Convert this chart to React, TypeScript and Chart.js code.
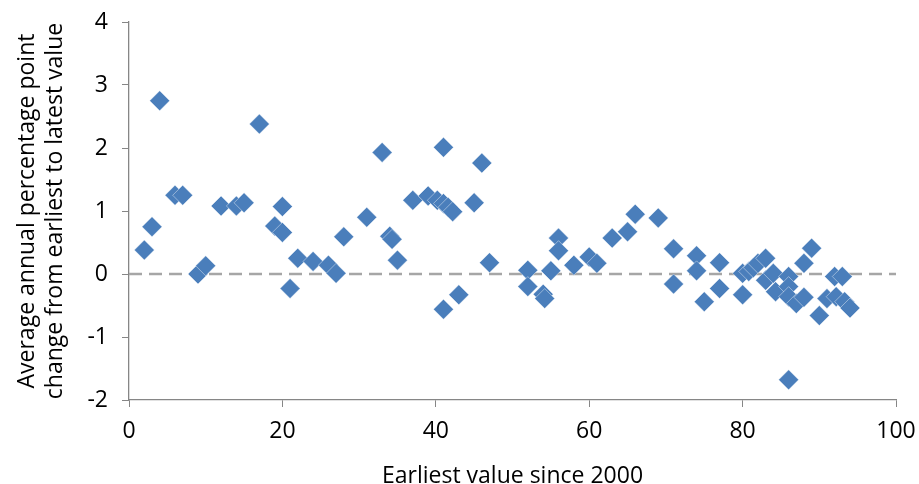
import React, { useEffect, useRef } from "react";
import { Chart, registerables } from "chart.js";

Chart.register(...registerables);

const xValues: number[] = [
  2, 3, 4, 6, 7, 9, 10, 12, 14, 15, 17, 19, 20, 20, 21, 22, 24, 26, 27, 28,
  31, 33, 34, 34.3, 35, 37, 39, 40.2, 41, 41, 41, 41.6, 42.2, 43, 45, 46, 47,
  52, 52, 54, 54.2, 55, 56, 56, 58, 60, 61, 63, 65, 66, 69, 71, 71, 74, 74,
  75, 77, 77, 80, 80, 80.8, 81.4, 82, 83, 83, 84, 84.3, 86, 86, 86, 86, 87,
  88, 88, 89, 90, 91, 92, 92.2, 93, 93.3, 94,
];
const yValues: number[] = [
  0.38, 0.75, 2.75, 1.25, 1.25, 0.0, 0.13, 1.08, 1.08, 1.13, 2.38, 0.76, 0.66,
  1.07, -0.23, 0.25, 0.2, 0.14, 0.01, 0.59, 0.9, 1.93, 0.6, 0.55, 0.22, 1.17,
  1.24, 1.17, 2.01, 1.12, -0.56, 1.06, 0.99, -0.33, 1.13, 1.76, 0.18, 0.06,
  -0.2, -0.32, -0.39, 0.05, 0.57, 0.37, 0.14, 0.27, 0.17, 0.57, 0.67, 0.95,
  0.89, 0.4, -0.16, 0.29, 0.05, -0.44, 0.18, -0.23, 0.01, -0.33, 0.04, 0.1,
  0.17, 0.25, -0.1, 0.01, -0.28, -0.04, -0.2, -0.36, -1.68, -0.47, 0.17,
  -0.37, 0.41, -0.66, -0.39, -0.04, -0.36, -0.04, -0.44, -0.54,
];
const zeroLineX: number[] = [0, 100];
const zeroLineY: number[] = [0, 0];

const xTitle = "Earliest value since 2000";
const yTitle: string[] = [
  "Average annual percentage point",
  "change from earliest to latest value",
];

const FONT = "'Open Sans', Lato, sans-serif";
const FS = 23;

export default function App() {
  const canvasRef = useRef<HTMLCanvasElement | null>(null);

  useEffect(() => {
    if (!canvasRef.current) return;
    const points = xValues.map((x, i) => ({ x, y: yValues[i] }));
    const zero = zeroLineX.map((x, i) => ({ x, y: zeroLineY[i] }));
    const chart = new Chart(canvasRef.current, {
      type: "scatter",
      data: {
        datasets: [
          {
            data: points,
            pointStyle: "rectRot",
            pointRadius: 10,
            pointHoverRadius: 10,
            backgroundColor: "#4A7EBB",
            borderColor: "rgba(255,255,255,0.6)",
            borderWidth: 0.7,
            order: 1,
          },
          {
            type: "line",
            data: zero,
            showLine: true,
            borderColor: "#A6A6A6",
            borderWidth: 2.5,
            borderDash: [13, 7],
            pointRadius: 0,
            fill: false,
            order: 2,
          } as any,
        ],
      },
      options: {
        animation: false,
        responsive: true,
        maintainAspectRatio: false,
        layout: { padding: { top: 22, right: 23, left: 0, bottom: 0 } },
        plugins: { legend: { display: false }, tooltip: { enabled: false } },
        scales: {
          x: {
            type: "linear",
            min: 0,
            max: 100,
            ticks: {
              stepSize: 20,
              color: "#000",
              padding: 11,
              font: { family: FONT, size: FS },
            },
            grid: {
              drawOnChartArea: false,
              drawTicks: true,
              tickLength: 7,
              color: "#868686",
            },
            border: { color: "#868686", width: 1.3 },
            title: {
              display: true,
              text: xTitle,
              color: "#000",
              font: { family: FONT, size: FS, lineHeight: "15px" },
              padding: { top: 0, bottom: 0 },
            },
            afterFit: (s: any) => {
              s.height = 84;
              s.paddingLeft = 0;
              s.paddingRight = 0;
            },
          },
          y: {
            type: "linear",
            min: -2,
            max: 4,
            ticks: {
              stepSize: 1,
              color: "#000",
              padding: 14,
              font: { family: FONT, size: FS },
            },
            grid: {
              drawOnChartArea: false,
              drawTicks: true,
              tickLength: 7,
              color: "#868686",
            },
            border: { color: "#868686", width: 1.3 },
            title: {
              display: true,
              text: yTitle,
              color: "#000",
              font: { family: FONT, size: FS, lineHeight: "28px" },
              padding: { top: 13, bottom: 0 },
            },
            afterFit: (s: any) => {
              s.width = 129;
              s.paddingTop = 0;
              s.paddingBottom = 0;
            },
          },
        },
      },
    });
    return () => chart.destroy();
  }, []);

  return (
    <div style={{ position: "absolute", left: 0, top: 0, width: 919, height: 484 }}>
      <canvas ref={canvasRef} />
    </div>
  );
}
